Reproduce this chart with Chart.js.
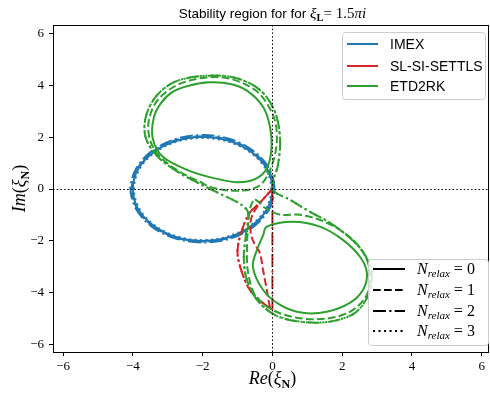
<!DOCTYPE html>
<html>
<head>
<meta charset="utf-8">
<script src="https://cdn.jsdelivr.net/npm/chart.js@4.4.0/dist/chart.umd.min.js"></script>
<style>
  html, body { margin: 0; padding: 0; background: #fff; }
  #wrap { width: 490px; height: 393px; position: relative; }
</style>
</head>
<body>
<div id="wrap"><canvas id="chart"></canvas></div>
<script>
// ticks
const xTicks = [-6, -4, -2, 0, 2, 4, 6];
const yTicks = [-6, -4, -2, 0, 2, 4, 6];

// legend entries
const methods = ["IMEX", "SL-SI-SETTLS", "ETD2RK"];
const colors = ["#1f77b4", "#d62728", "#2ca02c"];
const relaxValues = ["0", "1", "2", "3"];

// line style for N_relax = 0,1,2,3 (solid, dashed, dash-dot, dotted)
const dashes = [[], [7.7, 3.3], [13, 3.3, 2.1, 3.3], [2.1, 3.4]];

// IMEX boundary points [Re, Im], N_relax = 0..3 (closed curves)
const imex0 = [[0,0],[-0.15,0.77],[-0.59,1.41],[-1.23,1.85],[-2,2],[-2.77,1.85],[-3.41,1.41],[-3.85,0.77],[-4,0],[-3.85,-0.77],[-3.41,-1.41],[-2.77,-1.85],[-2,-2],[-1.23,-1.85],[-0.59,-1.41],[-0.15,-0.77]];
const imex1 = [[0.03,0],[-0.13,0.79],[-0.57,1.44],[-1.22,1.88],[-2,2.03],[-2.78,1.88],[-3.43,1.44],[-3.87,0.78],[-4.03,0],[-3.87,-0.78],[-3.43,-1.43],[-2.78,-1.87],[-2,-2.02],[-1.22,-1.87],[-0.57,-1.43],[-0.13,-0.78]];
const imex2 = [[0.06,0.02],[-0.1,0.81],[-0.55,1.47],[-1.2,1.92],[-1.98,2.08],[-2.79,1.92],[-3.45,1.47],[-3.9,0.8],[-4.07,0.01],[-3.9,-0.79],[-3.45,-1.46],[-2.79,-1.9],[-2,-2.06],[-1.2,-1.91],[-0.55,-1.46],[-0.1,-0.79]];
const imex3 = [[-0.03,0],[-0.18,0.75],[-0.61,1.39],[-1.25,1.82],[-2,1.97],[-2.75,1.82],[-3.39,1.39],[-3.82,0.75],[-3.97,0],[-3.82,-0.75],[-3.39,-1.39],[-2.75,-1.82],[-2,-1.97],[-1.25,-1.82],[-0.61,-1.39],[-0.18,-0.75]];

// SL-SI-SETTLS boundary points (open arcs + segment on the imaginary axis)
const settls1 = [[0,0],[-0.36,-0.55],[-0.6,-1.1],[-0.62,-1.7],[-0.52,-2.1],[-0.36,-2.46],[-0.27,-3.11],[-0.16,-3.88],[-0.07,-4.54],[0,-4.65]];
const settls2 = [[0,0],[-0.36,-0.53],[-0.65,-0.91],[-0.87,-1.57],[-0.99,-2.22],[-0.99,-2.61],[-0.87,-3.22],[-0.65,-3.88],[-0.27,-4.39],[0,-4.65]];
const settlsAxis = [[0,0],[0,-4.65]];

// ETD2RK boundary points (closed curves)
const etd0up = [[-0.07,2.4],[-0.27,3.17],[-0.73,3.79],[-1.2,4.05],[-1.8,4.11],[-2.4,3.98],[-2.85,3.75],[-3.2,3.3],[-3.4,2.75],[-3.43,1.95],[-3.14,1.24],[-2.45,0.74],[-1.71,0.43],[-1.02,0.26],[-0.5,0.38],[-0.18,0.75],[-0.03,1.5]];
const etd0low = [[-0.16,-1.45],[0.59,-1.26],[1.36,-1.45],[2.02,-1.96],[2.51,-2.61],[2.71,-3.23],[2.6,-3.88],[2.22,-4.39],[1.56,-4.73],[0.87,-4.77],[0.22,-4.46],[-0.27,-3.88],[-0.56,-3],[-0.44,-2.34],[-0.27,-1.8]];
const etd1up = [[-0.13,0.55],[0.1,1.51],[0.1,2.47],[-0.13,3.24],[-0.5,3.82],[-1.22,4.25],[-1.94,4.29],[-2.71,4.02],[-3.28,3.44],[-3.54,2.67],[-3.51,1.9],[-3.22,1.24],[-2.65,0.66],[-2.08,0.28],[-1.71,0.05],[-1.02,-0.07],[-0.42,0.09]];
const etd1low = [[-0.5,-0.41],[-0.22,-0.72],[0.22,-0.99],[0.79,-0.99],[1.56,-1.3],[2.31,-1.96],[2.71,-2.73],[2.8,-3.5],[2.68,-4.15],[2.22,-4.73],[1.51,-5],[0.7,-4.96],[-0.01,-4.65],[-0.5,-4.08],[-0.7,-3.19],[-0.73,-2.34],[-0.7,-1.49],[-0.65,-0.8]];
const etd2 = [[0,0],[0.5,-0.41],[1.08,-0.88],[1.65,-1.3],[2.22,-1.88],[2.65,-2.53],[2.85,-3.31],[2.74,-4.11],[2.37,-4.77],[1.65,-5.11],[0.79,-5.11],[0.07,-4.85],[-0.44,-4.27],[-0.73,-3.5],[-0.82,-2.65],[-0.76,-1.77],[-0.7,-0.91],[-0.93,-0.57],[-1.51,-0.18],[-2.08,0.2],[-2.71,0.66],[-3.28,1.24],[-3.63,1.97],[-3.63,2.78],[-3.34,3.56],[-2.8,4.13],[-1.94,4.36],[-1.08,4.29],[-0.36,3.82],[0.07,2.98],[0.22,1.9],[0.16,0.93]];

// [method index, N_relax, points, closed]
const curves = [
  [2, 0, etd0up, true], [2, 0, etd0low, true],
  [2, 1, etd1up, true], [2, 1, etd1low, true],
  [2, 2, etd2, true], [2, 3, etd2, true],
  [1, 1, settls1, false], [1, 2, settls2, false], [1, 2, settlsAxis, false], [1, 3, settls2, false],
  [0, 0, imex0, true], [0, 1, imex1, true], [0, 2, imex2, true], [0, 3, imex3, true]
];

const datasets = curves.map(([m, n, pts, closed]) => ({
  data: pts.map(([x, y]) => ({x, y})),
  closed,
  showLine: true,
  borderColor: colors[m],
  borderWidth: 2,
  borderDash: dashes[n],
  pointRadius: 0,
  tension: pts.length > 2 ? 0.34 : 0,
  fill: false
}));

const serif = "'Liberation Serif', 'DejaVu Serif', serif";
const sans = "'Liberation Sans', Arial, sans-serif";

function runsWidth(ctx, runs) {
  let w = 0;
  for (const r of runs) { ctx.font = r.f; w += ctx.measureText(r.t).width; }
  return w;
}
function drawRuns(ctx, runs, x, y) {
  for (const r of runs) {
    ctx.font = r.f;
    ctx.fillText(r.t, x, y + (r.dy || 0));
    x += ctx.measureText(r.t).width;
  }
}
function roundBox(ctx, x, y, w, h, r) {
  ctx.beginPath();
  ctx.moveTo(x + r, y);
  ctx.arcTo(x + w, y, x + w, y + h, r);
  ctx.arcTo(x + w, y + h, x, y + h, r);
  ctx.arcTo(x, y + h, x, y, r);
  ctx.arcTo(x, y, x + w, y, r);
  ctx.closePath();
  ctx.fillStyle = "rgba(255,255,255,0.8)";
  ctx.fill();
  ctx.strokeStyle = "#cccccc";
  ctx.lineWidth = 1;
  ctx.stroke();
}

// make closed curves join smoothly
const closeLoops = {
  id: "closeLoops",
  afterUpdate(chart) {
    chart.data.datasets.forEach((ds, i) => {
      if (!ds.closed) return;
      const line = chart.getDatasetMeta(i).dataset;
      line._loop = true;
      line._fullLoop = true;
      delete line._segments;
      delete line._path;
      line._pointsUpdated = false;
    });
  }
};

const decor = {
  id: "decor",
  afterDatasetsDraw(chart) {
    const {ctx, chartArea: a, scales: {x, y}} = chart;
    ctx.save();
    ctx.strokeStyle = "#000";
    ctx.lineWidth = 1;
    ctx.setLineDash([1.5, 2.2]);
    const x0 = Math.round(x.getPixelForValue(0)) + 0.5;
    const y0 = Math.round(y.getPixelForValue(0)) + 0.5;
    ctx.beginPath();
    ctx.moveTo(a.left, y0); ctx.lineTo(a.right, y0);
    ctx.moveTo(x0, a.top); ctx.lineTo(x0, a.bottom);
    ctx.stroke();
    ctx.setLineDash([]);
    ctx.strokeRect(Math.round(a.left) + 0.5, Math.round(a.top) + 0.5,
      Math.round(a.right - a.left) - 1, Math.round(a.bottom - a.top));
    ctx.restore();
  },
  afterDraw(chart) {
    const ctx = chart.ctx;
    ctx.save();
    ctx.fillStyle = "#000";
    ctx.textBaseline = "alphabetic";

    // title
    const title = [
      {t: "Stability region for for ", f: "13.5px " + sans},
      {t: "ξ", f: "italic 15px " + serif},
      {t: "L", f: "bold 10.5px " + serif, dy: 3},
      {t: "= 1.5", f: "15px " + serif},
      {t: "πi", f: "italic 15px " + serif}
    ];
    drawRuns(ctx, title, 272.5 - runsWidth(ctx, title) / 2, 18);

    // x label
    const xl = [
      {t: "Re", f: "italic 18px " + serif},
      {t: "(", f: "18px " + serif},
      {t: "ξ", f: "italic 18px " + serif},
      {t: "N", f: "bold 12px " + serif, dy: 4},
      {t: ")", f: "18px " + serif}
    ];
    drawRuns(ctx, xl, 272.5 - runsWidth(ctx, xl) / 2, 384);

    // y label
    const yl = [
      {t: "Im", f: "italic 18px " + serif},
      {t: "(", f: "18px " + serif},
      {t: "ξ", f: "italic 18px " + serif},
      {t: "N", f: "bold 12px " + serif, dy: 4},
      {t: ")", f: "18px " + serif}
    ];
    ctx.save();
    ctx.translate(25, 188.5);
    ctx.rotate(-Math.PI / 2);
    drawRuns(ctx, yl, -runsWidth(ctx, yl) / 2, 0);
    ctx.restore();

    // legend: methods
    roundBox(ctx, 342.5, 32.5, 143, 67, 3);
    const rows1 = [44, 66, 86];
    methods.forEach((name, i) => {
      ctx.strokeStyle = colors[i];
      ctx.lineWidth = 2;
      ctx.beginPath();
      ctx.moveTo(347, rows1[i]); ctx.lineTo(378, rows1[i]);
      ctx.stroke();
      ctx.fillStyle = "#000";
      ctx.font = "14px " + sans;
      ctx.fillText(name, 390, rows1[i] + 5);
    });

    // legend: N_relax
    roundBox(ctx, 368.5, 259.5, 120, 86, 3);
    const rows2 = [269, 290, 311, 331];
    relaxValues.forEach((v, i) => {
      ctx.strokeStyle = "#000";
      ctx.lineWidth = 2;
      ctx.setLineDash(dashes[i]);
      ctx.beginPath();
      ctx.moveTo(373, rows2[i]); ctx.lineTo(405, rows2[i]);
      ctx.stroke();
      ctx.setLineDash([]);
      ctx.fillStyle = "#000";
      drawRuns(ctx, [
        {t: "N", f: "italic 16px " + serif},
        {t: "relax", f: "italic 11px " + serif, dy: 3},
        {t: " = " + v, f: "16px " + serif}
      ], 417, rows2[i] + 5);
    });
    ctx.restore();
  }
};

const fmt = v => (v < 0 ? "\u2212" + Math.abs(v) : String(v));

new Chart(document.getElementById("chart"), {
  type: "scatter",
  data: { datasets },
  options: {
    responsive: true,
    maintainAspectRatio: false,
    devicePixelRatio: 1,
    animation: false,
    layout: { padding: { top: 25, right: 1, left: 0, bottom: 0 } },
    plugins: { legend: { display: false }, tooltip: { enabled: false } },
    scales: {
      x: {
        type: "linear",
        min: -6.29, max: 6.21,
        afterBuildTicks: s => { s.ticks = xTicks.map(v => ({value: v})); },
        afterFit: s => { s.height = 41; },
        border: { display: false },
        grid: { drawOnChartArea: false, drawTicks: true, tickLength: 4, color: "#000" },
        ticks: { color: "#000", font: { family: serif, size: 13 }, padding: 3,
                 autoSkip: false, maxRotation: 0, callback: fmt }
      },
      y: {
        type: "linear",
        min: -6.28, max: 6.32,
        afterBuildTicks: s => { s.ticks = yTicks.map(v => ({value: v})); },
        afterFit: s => { s.width = 53; },
        border: { display: false },
        grid: { drawOnChartArea: false, drawTicks: true, tickLength: 4, color: "#000" },
        ticks: { color: "#000", font: { family: serif, size: 13 }, padding: 5,
                 autoSkip: false, callback: fmt }
      }
    }
  },
  plugins: [closeLoops, decor]
});
</script>
</body>
</html>
